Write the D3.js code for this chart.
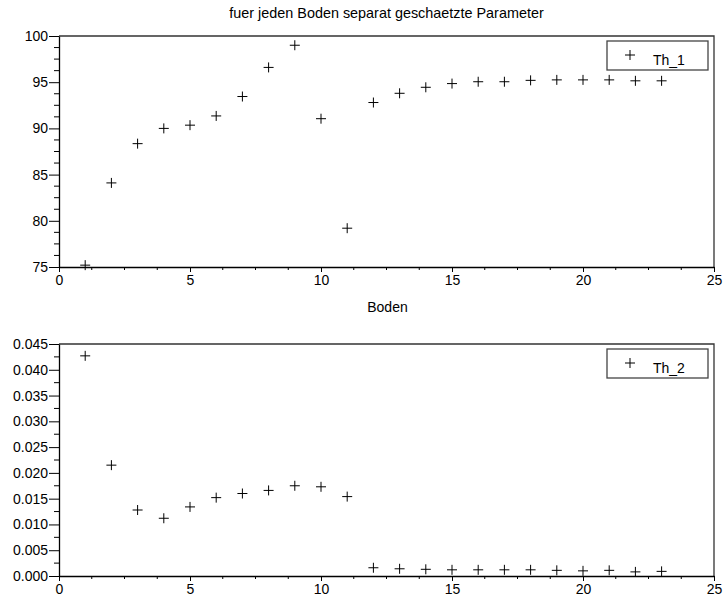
<!DOCTYPE html>
<html lang="de">
<head>
<meta charset="UTF-8">
<title>fuer jeden Boden separat geschaetzte Parameter</title>
<script src="https://d3js.org/d3.v7.min.js"></script>
<style>
  body { margin: 0; background: #fff; }
  svg { display: block; font-family: "Liberation Sans", Arial, sans-serif; }
</style>
</head>
<body>
<div id="chart"></div>
<script>
// Boden index 1..23
const boden = d3.range(1, 24);
const th1 = [75.2, 84.1, 88.35, 90.0, 90.35, 91.35, 93.45, 96.6, 99.0, 91.05, 79.2,
             92.8, 93.8, 94.45, 94.85, 95.05, 95.05, 95.2, 95.25, 95.25, 95.25, 95.15, 95.15];
const th2 = [0.0427, 0.0215, 0.0128, 0.0112, 0.0134, 0.0152, 0.0160, 0.0166, 0.0175, 0.0173, 0.0154,
             0.0016, 0.0014, 0.0013, 0.0012, 0.0012, 0.0012, 0.0012, 0.0011, 0.0010, 0.0011, 0.0008, 0.0009];
const xTicks = [0, 5, 10, 15, 20, 25];
const yTicks1 = [75, 80, 85, 90, 95, 100];
const yTicks2 = [0, 0.005, 0.01, 0.015, 0.02, 0.025, 0.03, 0.035, 0.04, 0.045];

const W = 724, H = 599;
const left = 59, right = 714;

const svg = d3.select("#chart").append("svg")
  .attr("width", W).attr("height", H);

const x = d3.scaleLinear().domain([0, 25]).range([left, right]);

function panel(top, bottom, yDomain, yTicks, yMinorStep, fmt, values, label) {
  const y = d3.scaleLinear().domain(yDomain).range([bottom, top]);
  const g = svg.append("g");

  // frame (top + right)
  g.append("path")
    .attr("d", `M${left},${top}H${right}V${bottom}`)
    .attr("fill", "none").attr("stroke", "#333").attr("stroke-width", 1.3);

  // minor ticks
  const xMinor = d3.range(0, 25.001, 1.25).filter(v => v % 5 !== 0);
  g.selectAll(".xm").data(xMinor).enter().append("line")
    .attr("x1", d => x(d)).attr("x2", d => x(d))
    .attr("y1", bottom).attr("y2", bottom + 3)
    .attr("stroke", "#000");
  const nMinor = Math.round((yDomain[1] - yDomain[0]) / yMinorStep);
  const yMinor = d3.range(0, nMinor + 1).map(i => yDomain[0] + i * yMinorStep)
    .filter((v, i) => i % Math.round((yTicks[1] - yTicks[0]) / yMinorStep) !== 0);
  g.selectAll(".ym").data(yMinor).enter().append("line")
    .attr("x1", left - 5).attr("x2", left)
    .attr("y1", d => y(d)).attr("y2", d => y(d))
    .attr("stroke", "#000");

  // axes
  const ax = g.append("g").attr("transform", `translate(0,${bottom})`)
    .call(d3.axisBottom(x).tickValues(xTicks).tickSize(5).tickSizeOuter(0).tickPadding(3));
  const ay = g.append("g").attr("transform", `translate(${left},0)`)
    .call(d3.axisLeft(y).tickValues(yTicks).tickFormat(fmt).tickSize(10).tickSizeOuter(0).tickPadding(1));
  [ax, ay].forEach(a => {
    a.select(".domain").attr("stroke", "#000").attr("stroke-width", 1.3);
    a.selectAll("text").attr("font-size", 14).attr("fill", "#000")
      .attr("font-family", "Liberation Sans, Arial, sans-serif");
  });

  // markers
  const s = 5;
  g.selectAll(".pt").data(values).enter().append("path")
    .attr("d", (d, i) => {
      const px = x(boden[i]), py = y(d);
      return `M${px - s},${py}H${px + s}M${px},${py - s}V${py + s}`;
    })
    .attr("stroke", "#000").attr("stroke-width", 1).attr("fill", "none");

  // legend
  const lx = 607, ly = top + 5;
  g.append("rect").attr("x", lx).attr("y", ly).attr("width", 101).attr("height", 29)
    .attr("fill", "#fff").attr("stroke", "#444").attr("stroke-width", 1.3);
  g.append("path")
    .attr("d", `M${630 - s},${ly + 14}H${630 + s}M630,${ly + 14 - s}V${ly + 14 + s}`)
    .attr("stroke", "#000").attr("fill", "none");
  g.append("text").attr("x", 653).attr("y", ly + 24)
    .attr("font-size", 14).text(label);
}

svg.append("text").attr("x", (left + right) / 2).attr("y", 18)
  .attr("text-anchor", "middle").attr("font-size", 14.4)
  .text("fuer jeden Boden separat geschaetzte Parameter");

panel(36, 267, [75, 100], yTicks1, 1.25, d3.format("d"), th1, "Th_1");

svg.append("text").attr("x", (left + right) / 2 + 1).attr("y", 312)
  .attr("text-anchor", "middle").attr("font-size", 14)
  .text("Boden");

panel(344, 576, [0, 0.045], yTicks2, 0.0025, d3.format(".3f"), th2, "Th_2");
</script>
</body>
</html>
